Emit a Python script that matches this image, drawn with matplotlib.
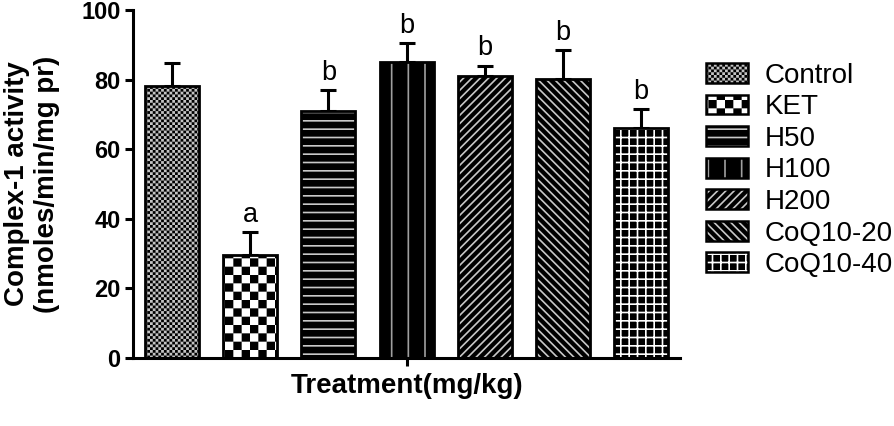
import numpy as np
import matplotlib as mpl
import matplotlib.pyplot as plt
import matplotlib.hatch as mhatch
from matplotlib.path import Path

plt.rcParams['font.family'] = ['Liberation Sans', 'DejaVu Sans']
plt.rcParams['hatch.linewidth'] = 1.2

# data
groups = ['Control', 'KET', 'H50', 'H100', 'H200', 'CoQ10-20', 'CoQ10-40']
means = [78.2, 29.6, 71.0, 85.0, 81.0, 80.2, 66.0]
errs = [6.6, 6.6, 6.0, 5.5, 3.0, 8.3, 5.5]
letters = ['', 'a', 'b', 'b', 'b', 'b', 'b']


# checkerboard fill, used in place of the small-circle hatch 'o'
class CheckerHatch(mhatch.HatchPatternBase):
    def __init__(self, hatch, density):
        self.n = hatch.count('o') * density
        self.num_vertices = (self.n * self.n // 2) * 5

    def set_vertices_and_codes(self, vertices, codes):
        n = self.n
        s = 1.0 / n
        g = mpl.rcParams['hatch.linewidth'] / 72.0 / 2
        k = 0
        for i in range(n):
            for j in range(n):
                if (i + j) % 2 == 0:
                    x0, y0 = i * s + g, j * s + g
                    x1, y1 = (i + 1) * s - g, (j + 1) * s - g
                    vertices[k:k + 5] = [[x0, y0], [x1, y0], [x1, y1], [x0, y1], [x0, y0]]
                    codes[k:k + 5] = [Path.MOVETO, Path.LINETO, Path.LINETO,
                                      Path.LINETO, Path.CLOSEPOLY]
                    k += 5


mhatch._hatch_types = [CheckerHatch if t is mhatch.SmallCircles else t
                       for t in mhatch._hatch_types]

# fill styles: (face, hatch colour, hatch)
styles = [
    ('#c4c4c4', 'black', 'oooooo'),
    ('white', 'black', 'oo'),
    ('black', '#c8c8c8', '--'),
    ('black', '#a0a0a0', '|'),
    ('black', '#c8c8c8', '////'),
    ('black', '#c8c8c8', '\\\\\\\\'),
    ('black', 'white', '++'),
]

fig = plt.figure(figsize=(8.95, 4.26), dpi=100)
ax = fig.add_axes([0.1486, 0.1596, 0.6114, 0.817])

x = np.arange(len(groups))
handles = []
for i in range(len(groups)):
    face, hc, hatch = styles[i]
    ax.bar(x[i], means[i], width=0.69, color=face, edgecolor=hc, hatch=hatch,
           linewidth=0, zorder=2)
    ax.bar(x[i], means[i], width=0.69, fill=False, edgecolor='black',
           linewidth=2.0, zorder=3)
    h1 = plt.Rectangle((0, 0), 1, 1, facecolor=face, edgecolor=hc, hatch=hatch, linewidth=0)
    h2 = plt.Rectangle((0, 0), 1, 1, fill=False, edgecolor='black', linewidth=1.8)
    handles.append((h1, h2))

ax.errorbar(x, means, yerr=[np.zeros(len(errs)), errs], fmt='none', ecolor='black',
            elinewidth=2.2, capsize=5.8, capthick=2.2, zorder=1)

for i, l in enumerate(letters):
    if l:
        ax.text(x[i], means[i] + errs[i] + 3, l, ha='center', va='baseline', fontsize=19.5)

ax.set_xlim(-0.5, 6.5)
ax.set_ylim(0, 100)
ax.set_yticks([0, 20, 40, 60, 80, 100])
ax.set_xticks([3])
ax.set_xticklabels([''])
for s in ['top', 'right']:
    ax.spines[s].set_visible(False)
for s in ['left', 'bottom']:
    ax.spines[s].set_linewidth(2.2)
ax.tick_params(axis='both', width=2.2, length=6, pad=3, labelsize=17)
for t in ax.get_yticklabels():
    t.set_fontweight('bold')

ax.set_ylabel('Complex-1 activity\n(nmoles/min/mg pr)', fontsize=20, fontweight='bold')
ax.yaxis.set_label_coords(-0.134, 0.5)
ax.set_xlabel('Treatment(mg/kg)', fontsize=20, fontweight='bold', labelpad=2)

fig.legend(handles, groups, loc='center left', bbox_to_anchor=(0.789, 0.60),
           frameon=False, fontsize=20, handlelength=1.5, handleheight=0.72,
           labelspacing=0.2, handletextpad=0.6, borderpad=0, borderaxespad=0)

fig.savefig('out.png', dpi=100)
